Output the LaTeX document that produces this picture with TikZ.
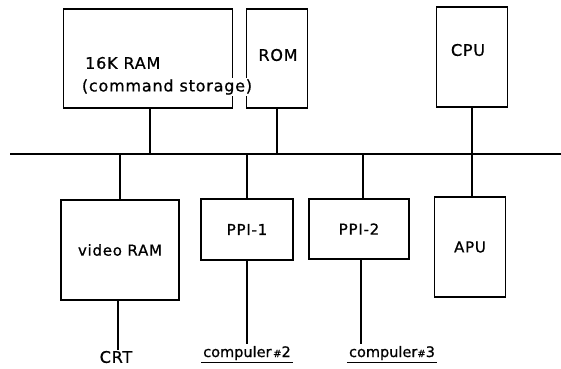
\documentclass[tikz,border=0pt]{standalone}
\usepackage{fontspec}
\setmainfont{DejaVu Sans}[FakeBold=0.8]
\newfontfamily\wide{DejaVu Sans}[LetterSpace=5,FakeBold=0.8]
\begin{document}
\begin{tikzpicture}[x=1pt,y=-1pt,
  blk/.style={draw,line width=1.3pt,inner sep=0pt,font=\wide\fontsize{15}{17}\selectfont},
  wire/.style={line width=1.3pt},
  lbl/.style={font=\wide\fontsize{16}{18}\selectfont,inner sep=1pt},
  ulbl/.style={font=\fontsize{14.5}{16}\selectfont,inner sep=2pt}]
\useasboundingbox (0,0) rectangle (561,368);
% top row
\node[blk,minimum width=169pt,minimum height=99pt] (ram) at (148,58.5) {};
\node[blk,minimum width=61pt,minimum height=99pt] (rom) at (277,58.5) {};
\node[blk,minimum width=71pt,minimum height=100pt] (cpu) at (472,57) {};
\node[lbl,anchor=west] (ramt) at (84,63) {16K RAM};
\node[lbl] (romt) at (278,55) {ROM};
\node[lbl] (cput) at (468,50) {CPU};
% bus
\coordinate (bl) at (10,154);
\coordinate (br) at (561,154);
\draw[wire] (bl) -- (br);
% bottom row
\node[blk,minimum width=118pt,minimum height=100pt] (vram) at (120,250) {video RAM};
\node[blk,minimum width=92pt,minimum height=61pt] (ppi1) at (247,229.5) {PPI-1};
\node[blk,minimum width=100pt,minimum height=60pt] (ppi2) at (359,229) {PPI-2};
\node[blk,minimum width=71pt,minimum height=100pt] (apu) at (470,247) {APU};
% labels
\node[lbl] (crt) at (116,357) {CRT};
\node[ulbl] (c2) at (247,353) {compuler{\fontsize{10}{10}\selectfont\,\#}2};
\node[ulbl] (c3) at (392,353) {compuler{\fontsize{10}{10}\selectfont\#}3};
\draw[wire] (c2.south west) -- (c2.south east);
\draw[wire] (c3.south west) -- (c3.south east);
% connectors
\draw[wire] ([xshift=2pt]ram.south) -- ([xshift=2pt]ram.south |- bl);
\draw[wire] (rom.south) -- (rom.south |- bl);
\draw[wire] (cpu.south) -- (cpu.south |- bl);
\draw[wire] (vram.north |- bl) -- (vram.north);
\draw[wire] (ppi1.north |- bl) -- (ppi1.north);
\draw[wire] ([xshift=4pt]ppi2.north |- bl) -- ([xshift=4pt]ppi2.north);
\draw[wire] ([xshift=2pt]apu.north |- bl) -- ([xshift=2pt]apu.north);
\draw[wire] ([xshift=-2pt]vram.south) -- ([xshift=-2pt]vram.south |- crt.north);
\draw[wire] (ppi1.south) -- (ppi1.south |- c2.north);
\draw[wire] ([xshift=2pt]ppi2.south) -- ([xshift=2pt]ppi2.south |- c3.north);
% label over the box borders
\node[lbl,fill=white] (cmd) at (167,87) {(command storage)};
\end{tikzpicture}
\end{document}
